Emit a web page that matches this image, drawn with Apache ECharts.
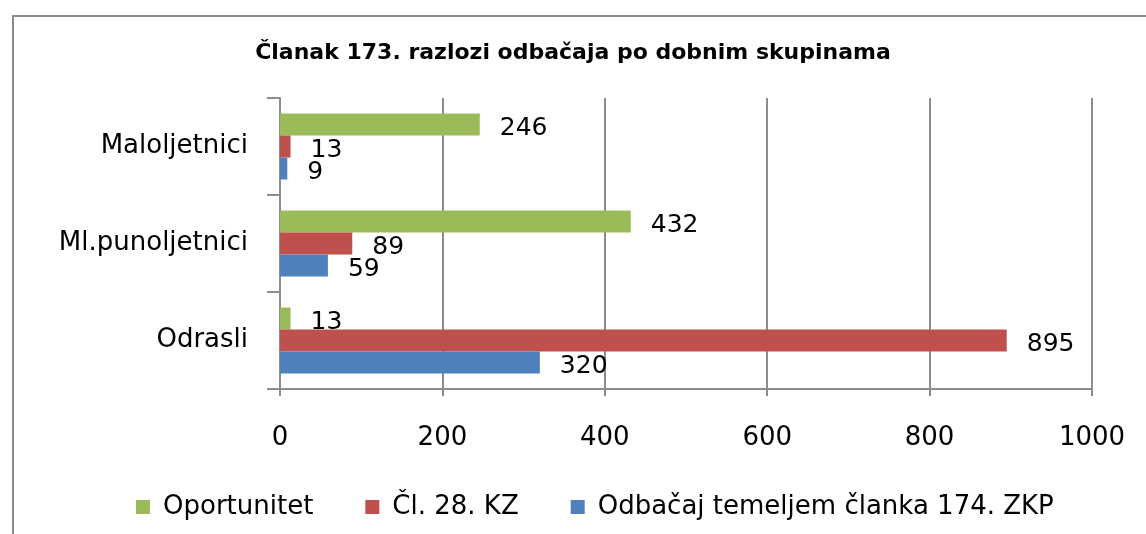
<!DOCTYPE html>
<html lang="hr">
<head>
    <meta charset="UTF-8">
    <title>Članak 173. razlozi odbačaja</title>
    <script src="https://cdn.jsdelivr.net/npm/echarts@6/dist/echarts.min.js"></script>
    <style>
        html, body {margin: 0; padding: 0; background: #fff;}
        #chart {width: 1146px; height: 534px;}
    </style>
</head>
<body>
<div id="chart"></div>
<script type="text/javascript">
    // kategorije odozdo prema gore (ECharts crta y os od dna)
    var categories = ['Odrasli', 'Ml.punoljetnici', 'Maloljetnici'];
    var odbacaj = [320, 59, 9];
    var cl28 = [895, 89, 13];
    var oportunitet = [13, 432, 246];
    var xTicks = [0, 200, 400, 600, 800, 1000];

    var font = 'DejaVu Sans';
    var gridColor = '#8c8c8c';

    function barSeries(name, data, color) {
        return {
            name: name,
            type: 'bar',
            data: data,
            barWidth: 22,
            barGap: '0%',
            itemStyle: {color: color},
            label: {
                show: true,
                position: 'right',
                distance: 20,
                offset: [0, 4],
                color: '#000',
                fontFamily: font,
                fontSize: 25
            }
        };
    }

    var option = {
        animation: false,
        title: {
            text: 'Članak 173. razlozi odbačaja po dobnim skupinama',
            left: 'center',
            top: 37,
            textStyle: {fontFamily: font, fontSize: 22, fontWeight: 'bold', color: '#000'}
        },
        graphic: [{
            type: 'rect',
            shape: {x: 13, y: 16, width: 1300, height: 700},
            style: {fill: 'none', stroke: '#8a8a8a', lineWidth: 2}
        }],
        legend: {
            data: ['Oportunitet', 'Čl. 28. KZ', 'Odbačaj temeljem članka 174. ZKP'],
            left: 131,
            top: 489,
            itemWidth: 14,
            itemHeight: 14,
            itemGap: 52,
            icon: 'rect',
            textStyle: {fontFamily: font, fontSize: 26, color: '#000', padding: [0, 0, 0, 8]}
        },
        grid: {left: 280, right: 54, top: 98, bottom: 145, containLabel: false},
        xAxis: {
            type: 'value',
            min: xTicks[0],
            max: xTicks[xTicks.length - 1],
            interval: xTicks[1] - xTicks[0],
            axisLine: {show: true, lineStyle: {color: gridColor, width: 2}},
            axisTick: {show: true, length: 7, lineStyle: {color: gridColor, width: 2}},
            splitLine: {show: true, lineStyle: {color: gridColor, width: 2}},
            axisLabel: {
                fontFamily: font, fontSize: 26, color: '#000', margin: 36,
                formatter: function (v) { return String(v); }
            }
        },
        yAxis: {
            type: 'category',
            data: categories,
            axisLine: {show: true, lineStyle: {color: gridColor, width: 2}},
            axisTick: {show: true, length: 13, lineStyle: {color: gridColor, width: 2}},
            axisLabel: {fontFamily: font, fontSize: 26, color: '#000', margin: 32}
        },
        // prva serija ide na vrh trake
        series: [
            barSeries('Oportunitet', oportunitet, '#9bbb59'),
            barSeries('Čl. 28. KZ', cl28, '#c0504d'),
            barSeries('Odbačaj temeljem članka 174. ZKP', odbacaj, '#4f81bd')
        ]
    };

    var chart = echarts.init(document.getElementById('chart'));
    chart.setOption(option);
</script>
</body>
</html>
